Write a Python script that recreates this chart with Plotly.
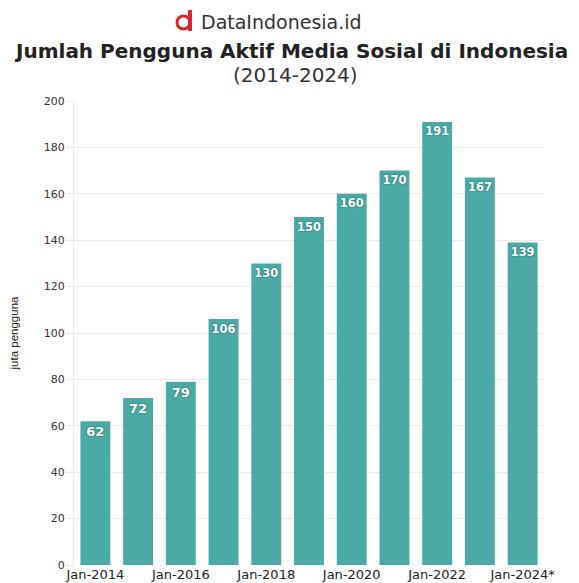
import plotly.graph_objects as go

years = ["Jan-2014", "Jan-2015", "Jan-2016", "Jan-2017", "Jan-2018", "Jan-2019",
         "Jan-2020", "Jan-2021", "Jan-2022", "Jan-2023", "Jan-2024*"]
users = [62, 72, 79, 106, 130, 150, 160, 170, 191, 167, 139]
tick_labels = ["Jan-2014", "Jan-2016", "Jan-2018", "Jan-2020", "Jan-2022", "Jan-2024*"]
y_ticks = [0, 20, 40, 60, 80, 100, 120, 140, 160, 180, 200]

OFF = 8  # page body margin
W, H = 579 - OFF, 583 - OFF
# plot area in page pixels: x 74..544, y 101..565
PX0, PX1, PY0, PY1 = 74, 544, 101, 565
L, R, T, B = PX0 - OFF, W - (PX1 - OFF), PY0 - OFF, H - (PY1 - OFF)
pw, ph = PX1 - PX0, PY1 - PY0

def px(x):
    return (x - PX0) / pw

def py(y):
    return (PY1 - y) / ph

fig = go.Figure(go.Bar(
    x=years, y=users,
    marker=dict(color="#4BAAA6", line=dict(width=0)),
    text=[str(v) for v in users],
    textposition="inside", insidetextanchor="end",
    textfont=dict(family="DejaVu Sans", size=13, color="white", weight="bold",
                  shadow="0px 0px 2px #1f5a58"),
    textangle=0,
    cliponaxis=False,
))

fig.update_layout(
    width=W, height=H,
    margin=dict(l=L, r=R, t=T, b=B, autoexpand=False),
    paper_bgcolor="white", plot_bgcolor="white",
    bargap=0.3,
    showlegend=False,
    font=dict(family="DejaVu Sans", color="#333333"),
    xaxis=dict(
        type="category", automargin=False,
        tickmode="array", tickvals=tick_labels, ticktext=tick_labels,
        tickfont=dict(size=13, color="#222222"),
        showgrid=False, ticks="", showline=False,
    ),
    yaxis=dict(
        range=[0, 200], tickvals=y_ticks, automargin=False,
        tickfont=dict(size=11, color="#333333"),
        showgrid=True, gridcolor="#EBEBEB", gridwidth=1,
        zeroline=False, showline=True, linecolor="#EBEBEB",
        ticks="outside", ticklen=6, tickcolor="#EBEBEB",
        title=dict(text="juta pengguna", font=dict(family="Liberation Sans", size=11.5, color="#222222"), standoff=26),
    ),
)

# logo
fig.add_shape(type="circle", xref="paper", yref="paper",
              x0=px(177), x1=px(190), y0=py(29), y1=py(16),
              line=dict(color="#D8262F", width=3))
fig.add_shape(type="rect", xref="paper", yref="paper",
              x0=px(188), x1=px(192), y0=py(31), y1=py(10),
              line=dict(width=0), fillcolor="#D8262F")
fig.add_annotation(xref="paper", yref="paper", x=px(199), y=py(22), xanchor="left", yanchor="middle",
                   text="DataIndonesia.id", showarrow=False,
                   font=dict(family="DejaVu Sans", size=19, color="#333333"))
fig.add_annotation(xref="paper", yref="paper", x=px(291), y=py(51), xanchor="center", yanchor="middle",
                   text="<b>Jumlah Pengguna Aktif Media Sosial di Indonesia</b>", showarrow=False,
                   font=dict(family="DejaVu Sans", size=20, color="#222222"))
fig.add_annotation(xref="paper", yref="paper", x=px(295), y=py(75), xanchor="center", yanchor="middle",
                   text="(2014-2024)", showarrow=False,
                   font=dict(family="DejaVu Sans", size=20, color="#333333"))

fig.write_html("out.html")
